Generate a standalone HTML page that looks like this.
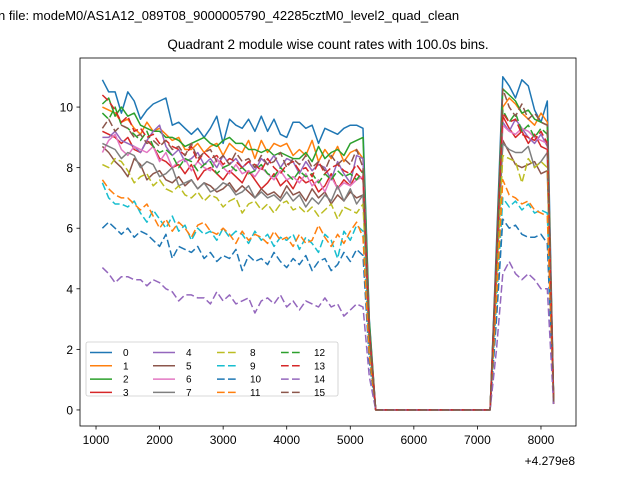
<!DOCTYPE html>
<html><head><meta charset="utf-8"><style>
body{margin:0;background:#fff;width:640px;height:480px;overflow:hidden}
svg{font-family:"Liberation Sans","DejaVu Sans",sans-serif}
</style></head><body>
<svg id="c" width="640" height="480" xmlns="http://www.w3.org/2000/svg">
<text x="-2" y="20" font-size="13">n file: modeM0/AS1A12_089T08_9000005790_42285cztM0_level2_quad_clean</text>
<text x="328" y="49" font-size="13.5" text-anchor="middle">Quadrant 2 module wise count rates with 100.0s bins.</text>
<g id="plot"></g>
<rect x="80" y="58" width="496" height="368" fill="none" stroke="#000" stroke-width="0.8"/>
<g id="axes"></g>
<text x="575" y="465" font-size="12" text-anchor="end">+4.279e8</text>
<g id="legend"></g>
</svg>
<script>
const s0=[10.9,10.5,10.5,9.8,10.5,10.2,9.6,9.9,10.1,10.2,10.3,9.4,9.5,9.3,9.1,9.3,9.0,9.3,9.7,8.8,9.6,9.4,9.3,9.6,9.2,9.7,9.2,9.6,9.1,9.0,9.5,9.5,9.3,9.4,8.8,9.3,9.2,9.1,9.3,9.4,9.4,9.3];
const s1=[10.0,9.9,9.8,9.5,9.6,9.3,9.1,9.5,9.2,9.3,9.1,8.9,9.0,8.6,8.6,8.8,8.5,8.7,8.8,8.4,8.8,8.6,8.5,8.9,8.3,8.9,8.5,8.8,8.7,8.8,8.4,8.6,8.4,8.9,8.2,8.6,8.3,8.7,8.2,8.5,8.6,8.3];
const s2=[10.1,10.3,9.7,10.0,9.7,9.8,9.4,9.3,9.2,9.2,9.0,9.0,8.9,8.7,8.8,8.9,9.0,8.8,8.7,8.9,9.0,8.8,8.8,8.6,8.6,8.5,8.6,8.4,8.5,8.4,8.3,8.3,8.5,8.2,8.7,8.3,8.5,8.6,8.4,8.8,8.9,9.0];
const s3=[9.2,9.1,9.0,8.8,9.0,8.6,8.5,8.9,8.7,8.3,8.2,8.0,8.1,7.8,8.1,7.6,7.9,8.0,7.8,7.6,7.9,7.7,7.5,7.9,7.6,7.3,7.5,7.8,7.4,7.6,7.3,7.7,7.5,7.6,7.2,7.4,7.8,7.3,7.6,7.4,7.8,7.6];
const s4=[9.0,9.0,9.2,8.9,8.8,8.7,8.5,8.9,9.2,9.4,8.7,8.4,8.6,8.2,8.3,8.5,8.1,8.3,8.0,8.4,8.1,8.3,8.0,8.2,7.9,8.3,8.1,8.4,8.0,8.3,8.2,7.8,8.2,7.9,8.1,8.0,7.6,8.2,7.8,7.5,8.4,8.3];
const s5=[8.7,8.5,8.2,8.0,7.7,8.3,8.1,7.6,7.8,7.9,7.6,7.5,7.7,7.4,7.6,7.3,7.5,7.4,7.2,7.3,7.5,7.2,7.4,7.2,7.0,7.3,7.1,7.2,7.0,7.4,7.1,7.2,6.9,7.3,7.0,7.2,6.8,7.1,6.9,7.2,7.0,7.1];
const s6=[8.5,8.9,9.1,8.6,8.4,8.7,8.6,8.5,8.7,8.2,8.5,8.0,8.2,8.3,7.9,8.2,8.0,7.9,8.3,8.0,7.8,8.1,7.8,7.9,7.7,8.0,7.8,7.6,7.9,7.6,7.7,7.5,7.8,7.4,7.6,7.2,7.7,7.3,7.5,7.4,7.6,7.7];
const s7=[8.8,8.7,8.6,8.3,8.5,8.4,8.0,8.2,8.1,7.7,7.8,8.0,7.4,7.5,7.6,7.3,7.5,7.2,7.3,7.5,7.4,7.1,7.2,7.4,7.0,7.2,7.0,7.1,6.9,7.2,6.9,7.1,6.7,7.0,6.8,7.1,6.9,7.4,6.9,7.3,6.8,7.1];
const s8=[8.1,8.0,8.3,8.2,7.9,7.5,7.7,7.8,7.4,7.6,7.3,7.2,7.4,7.1,7.0,7.2,6.9,7.1,7.0,6.7,6.9,7.0,6.5,6.8,6.9,6.6,6.8,6.5,6.8,6.9,6.6,6.7,6.5,6.7,6.4,6.6,6.8,6.3,6.7,6.6,6.5,6.8];
const s9=[7.5,7.0,6.8,6.8,6.7,6.9,6.5,6.2,6.6,6.3,6.0,6.4,5.9,6.1,5.6,6.0,5.8,5.9,5.6,6.0,5.7,5.9,5.8,5.5,5.9,5.6,5.8,5.4,5.7,5.6,5.8,5.3,5.7,5.5,5.2,5.8,5.6,5.0,5.9,5.6,6.1,5.9];
const s10=[6.0,6.2,6.0,5.8,6.0,5.7,5.9,5.8,5.6,5.4,5.8,5.0,5.4,5.3,5.2,5.4,5.0,5.2,4.9,5.1,5.0,5.3,4.6,5.1,4.9,5.0,4.8,5.2,4.9,4.7,5.0,4.8,5.1,4.6,4.9,5.0,4.6,4.8,5.2,4.9,5.3,5.1];
const s11=[7.6,7.3,7.1,7.0,7.0,6.8,6.6,6.8,6.4,6.0,6.3,5.9,6.2,6.0,5.7,6.1,6.2,5.9,5.8,6.0,5.8,5.5,5.9,5.6,5.8,5.7,5.5,5.9,5.6,5.7,5.4,5.8,5.5,5.6,6.1,5.7,5.4,5.8,5.5,5.9,6.2,5.7];
const s12=[9.8,9.6,10.0,9.4,9.3,9.1,8.9,9.2,8.7,8.5,8.6,8.4,8.0,8.3,8.2,7.9,8.1,8.2,7.8,8.0,8.1,7.9,8.0,7.8,7.9,8.1,7.8,7.7,8.0,7.8,7.6,7.9,7.7,7.8,7.5,7.8,7.6,7.9,7.7,7.8,7.6,7.9];
const s13=[10.4,10.2,9.9,9.5,9.7,9.2,9.3,9.0,9.1,8.8,8.9,8.7,8.6,8.4,8.7,8.2,8.5,8.3,8.4,8.1,8.3,8.2,8.0,8.2,8.1,7.9,8.3,8.0,7.8,8.1,8.2,7.9,8.0,7.7,8.2,7.8,8.0,8.1,7.9,7.8,8.1,7.8];
const s14=[4.7,4.5,4.2,4.4,4.4,4.3,4.3,4.1,4.3,4.2,4.0,3.9,3.6,3.8,3.8,3.7,3.7,3.5,3.9,3.6,3.8,3.5,3.6,3.7,3.2,3.6,3.7,3.5,3.8,3.4,3.6,3.3,3.6,3.5,3.4,3.7,3.4,3.5,3.1,3.3,3.5,3.4];
const s15=[9.3,9.6,9.2,9.4,9.3,9.0,9.1,8.8,8.9,8.7,8.9,8.6,8.7,8.4,8.8,8.3,8.5,8.6,8.2,8.4,8.1,8.5,8.2,8.3,8.0,8.4,8.1,8.2,8.5,8.0,8.3,8.1,8.4,8.0,8.2,7.9,8.4,8.1,8.3,8.1,8.6,8.0];
const fall=[3.0,2.8,2.9,2.5,2.6,2.3,2.5,2.3,2.2,1.9,1.6,1.8,2.5,2.6,1.1,2.7];
const gap=[0,0,0,0,0,0,0,0,0,0,0,0,0,0,0,0,0,0,0];
const r0=[5.5,11.0,10.7,10.3,10.9,10.7,9.9,9.5,10.2,0.3];
const r1=[5.0,10.0,10.3,10.1,9.8,9.6,9.4,9.8,9.5,0.2];
const r2=[5.2,10.6,10.4,10.2,9.8,9.9,9.6,9.5,9.4,0.2];
const r3=[4.5,9.7,9.3,9.0,9.2,8.8,9.1,8.7,8.6,0.2];
const r4=[4.8,9.5,9.2,9.6,9.3,9.0,8.8,9.1,8.7,0.2];
const r5=[4.3,8.9,8.5,8.1,8.0,8.1,8.2,7.8,7.9,0.2];
const r6=[4.7,9.4,9.2,9.1,9.3,9.2,9.0,8.9,8.8,0.2];
const r7=[4.4,8.8,8.6,8.5,8.5,8.7,8.0,8.2,8.5,0.2];
const r8=[4.0,8.4,8.3,8.2,7.5,8.3,8.0,8.2,8.0,0.2];
const r9=[3.5,7.0,6.7,6.9,6.6,6.8,6.5,6.6,6.5,0.2];
const r10=[3.0,6.3,6.0,6.1,5.8,5.7,5.7,5.8,5.5,0.2];
const r11=[3.7,7.6,7.1,7.0,6.8,6.9,6.6,6.5,6.4,0.2];
const r12=[5.0,9.9,9.5,9.8,9.2,9.4,9.0,9.3,9.1,0.2];
const r13=[5.0,9.8,9.5,9.6,9.1,9.0,8.9,9.2,8.8,0.2];
const r14=[2.0,4.5,4.9,4.5,4.3,4.5,4.3,4.0,4.0,0.1];
const r15=[5.2,10.6,10.0,9.7,10.1,9.6,9.8,9.5,9.4,0.2];
const xTicks=[1000,2000,3000,4000,5000,6000,7000,8000];
const yTicks=[0,2,4,6,8,10];
const labels=["0","1","2","3","4","5","6","7","8","9","10","11","12","13","14","15"];
const tStart=1100, tStep=100;

const NS="http://www.w3.org/2000/svg";
const L=80,R=576,T=58,B=426,xmin=748,xmax=8551,ymin=-0.53,ymax=11.62;
const X=t=>L+(t-xmin)/(xmax-xmin)*(R-L);
const Y=v=>B-(v-ymin)/(ymax-ymin)*(B-T);
const colors=["#1f77b4","#ff7f0e","#2ca02c","#d62728","#9467bd","#8c564b","#e377c2","#7f7f7f","#bcbd22","#17becf","#1f77b4","#ff7f0e","#2ca02c","#d62728","#9467bd","#8c564b"];
const seg1=[s0,s1,s2,s3,s4,s5,s6,s7,s8,s9,s10,s11,s12,s13,s14,s15];
const seg2=[r0,r1,r2,r3,r4,r5,r6,r7,r8,r9,r10,r11,r12,r13,r14,r15];
const plot=document.getElementById('plot');
seg1.forEach((a,i)=>{
  const vals=a.concat([fall[i]],gap,seg2[i]);
  const d=vals.map((v,k)=>(k?'L':'M')+X(tStart+k*tStep).toFixed(1)+' '+Y(v).toFixed(1)).join(' ');
  const p=document.createElementNS(NS,'path');
  p.setAttribute('d',d);p.setAttribute('fill','none');p.setAttribute('stroke',colors[i]);
  p.setAttribute('stroke-width','1.5');p.setAttribute('stroke-linejoin','round');
  if(i>=8)p.setAttribute('stroke-dasharray','7.7 3.3');
  
  
  plot.appendChild(p);
});
const axes=document.getElementById('axes');
xTicks.forEach(t=>{
  const x=X(t);
  const l=document.createElementNS(NS,'line');
  l.setAttribute('x1',x);l.setAttribute('x2',x);l.setAttribute('y1',B);l.setAttribute('y2',B+3.5);l.setAttribute('stroke','#000');l.setAttribute('stroke-width','0.8');
  
  
  axes.appendChild(l);
  const tx=document.createElementNS(NS,'text');
  tx.setAttribute('x',x);tx.setAttribute('y',B+18);tx.setAttribute('font-size','12');tx.setAttribute('text-anchor','middle');tx.textContent=t;
  
  
  axes.appendChild(tx);
});
yTicks.forEach(v=>{
  const y=Y(v);
  const l=document.createElementNS(NS,'line');
  l.setAttribute('x1',L-3.5);l.setAttribute('x2',L);l.setAttribute('y1',y);l.setAttribute('y2',y);l.setAttribute('stroke','#000');l.setAttribute('stroke-width','0.8');
  
  
  axes.appendChild(l);
  const tx=document.createElementNS(NS,'text');
  tx.setAttribute('x',L-7);tx.setAttribute('y',y+4.5);tx.setAttribute('font-size','12');tx.setAttribute('text-anchor','end');tx.textContent=v;
  
  
  axes.appendChild(tx);
});
const lg=document.getElementById('legend');
const box=document.createElementNS(NS,'rect');
box.setAttribute('x',86);box.setAttribute('y',342);box.setAttribute('width',252);box.setAttribute('height',54);box.setAttribute('rx',2);
box.setAttribute('fill','#fff');box.setAttribute('fill-opacity','0.8');box.setAttribute('stroke','#ccc');box.setAttribute('stroke-width','0.8');


lg.appendChild(box);
const colX=[90,153,217,281];
labels.forEach((lab,i)=>{
  const c=Math.floor(i/4),r=i%4;
  const x=colX[c],y=352.5+r*13.3;
  const l=document.createElementNS(NS,'line');
  l.setAttribute('x1',x);l.setAttribute('x2',x+22);l.setAttribute('y1',y);l.setAttribute('y2',y);
  l.setAttribute('stroke',colors[i]);l.setAttribute('stroke-width','1.5');
  if(i>=8)l.setAttribute('stroke-dasharray','7.7 3.3');
  
  
  lg.appendChild(l);
  const tx=document.createElementNS(NS,'text');
  tx.setAttribute('x',x+33);tx.setAttribute('y',y+3.5);tx.setAttribute('font-size','10');tx.textContent=lab;
  
  
  lg.appendChild(tx);
});
</script>
</body></html>
